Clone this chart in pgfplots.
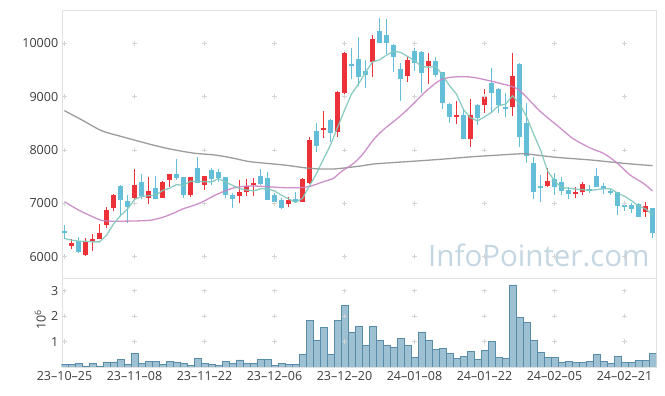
\documentclass[border=0pt]{standalone}
\usepackage{pgfplots}
\pgfplotsset{compat=1.18}
\usepackage{pgfplotstable}
\usepackage{fontspec}
\setmainfont{Open Sans}
\definecolor{upred}{RGB}{236,50,56}
\definecolor{dnblue}{RGB}{100,190,216}
\definecolor{maA}{RGB}{128,200,188}
\definecolor{maB}{RGB}{200,132,196}
\definecolor{maC}{RGB}{145,145,145}
\definecolor{volfill}{RGB}{152,190,208}
\definecolor{voldraw}{RGB}{88,140,168}
\definecolor{framec}{RGB}{225,225,225}
\definecolor{crossc}{RGB}{212,212,212}
\definecolor{wm}{RGB}{196,214,226}
\definecolor{labc}{RGB}{60,60,60}

\pgfplotstableread{
i O H L C
1 6206 6325 6137 6256
3 6031 6356 6019 6269
4 6300 6419 6112 6331
5 6337 6606 6325 6437
6 6587 6925 6544 6869
7 6919 7175 6862 7156
10 7106 7644 7062 7344
12 7106 7487 6987 7231
14 7106 7412 7100 7400
15 7437 7550 7300 7550
18 7156 7500 7125 7487
20 7350 7512 7250 7512
25 7144 7431 7000 7212
26 7219 7456 7137 7325
27 7344 7469 7137 7387
32 6987 7125 6925 7062
34 7031 7469 7031 7450
35 7375 8250 7362 8187
37 8375 8725 8225 8419
39 8344 9100 8237 9087
40 9075 9837 8950 9825
44 9656 10156 9362 10081
49 9394 9750 9281 9687
52 9575 9812 9237 9662
56 8625 8925 8481 8650
58 8212 8950 8050 8650
60 8844 9137 8687 9012
64 8812 9825 8637 9387
69 7325 7656 7300 7419
73 7187 7312 7094 7200
74 7219 7406 7156 7362
83 6844 7031 6737 6950
}\up

\pgfplotstableread{
i O H L C
0 6481 6594 6325 6437
2 6287 6362 6062 6094
8 7325 7337 6781 7062
9 7044 7156 6625 6937
11 7400 7550 7081 7144
13 7281 7512 7075 7087
16 7550 7825 7437 7481
17 7494 7494 7094 7162
19 7656 7862 7375 7387
21 7625 7656 7344 7456
22 7587 7637 7394 7481
23 7494 7500 7106 7156
24 7156 7187 6906 7081
28 7512 7644 7344 7362
29 7475 7594 7062 7062
30 7156 7187 7019 7025
31 7062 7094 6887 6919
33 7075 7206 7012 7019
36 8356 8500 7956 8081
38 8562 8575 8156 8325
41 9606 9919 9325 9581
42 9706 10112 9200 9375
43 9487 9687 9156 9406
45 10231 10469 10000 10012
46 10156 10450 9800 10012
47 9969 9981 9469 9737
48 9519 9625 8919 9325
50 9856 9919 9487 9625
51 9837 9862 9075 9450
53 9662 9750 9375 9406
54 9456 9469 8769 8887
55 8862 8875 8512 8625
57 8656 8762 8200 8206
59 8844 8862 8469 8594
61 9256 9531 8719 9062
62 9150 9162 8687 8844
63 8812 9062 8625 8781
65 9612 9625 8062 8237
66 8500 8875 7750 7887
67 7750 7862 7075 7219
68 7325 7531 7031 7281
70 7450 7562 7156 7312
71 7406 7500 7156 7237
72 7250 7312 7075 7169
75 7262 7344 7187 7237
76 7512 7656 7300 7312
77 7325 7375 7175 7262
78 7231 7262 7156 7200
79 7206 7219 6781 6956
80 6969 7031 6862 6937
81 6969 7000 6825 6894
82 6987 7000 6737 6750
84 6906 6919 6344 6450
}\down

\pgfplotstableread{
i V
0 0.11
1 0.11
2 0.15
3 0.04
4 0.15
5 0.04
6 0.20
7 0.20
8 0.31
9 0.11
10 0.54
11 0.15
12 0.23
13 0.23
14 0.11
15 0.23
16 0.20
17 0.15
18 0.07
19 0.35
20 0.15
21 0.11
22 0.07
23 0.23
24 0.15
25 0.28
26 0.15
27 0.15
28 0.31
29 0.31
30 0.07
31 0.15
32 0.11
33 0.11
34 0.50
35 1.82
36 1.04
37 1.54
38 0.50
39 1.82
40 2.43
41 1.38
42 1.58
43 0.86
44 1.58
45 1.04
46 0.84
47 0.78
48 1.14
49 0.86
50 0.39
51 1.38
52 1.04
53 0.70
54 0.74
55 0.54
56 0.35
57 0.42
58 0.62
59 0.31
60 0.66
61 1.02
62 0.39
63 0.35
64 3.23
65 1.94
66 1.74
67 1.06
68 0.58
69 0.39
70 0.39
71 0.19
72 0.23
73 0.19
74 0.19
75 0.23
76 0.50
77 0.23
78 0.15
79 0.42
80 0.19
81 0.19
82 0.27
83 0.27
84 0.54
}\vol

\begin{document}
\begin{tikzpicture}
\path[use as bounding box] (0,0) rectangle (665pt,396pt);
\pgfplotsset{
  chartbase/.style={
    scale only axis,
    width=594.3pt,
    xmin=-0.4, xmax=84.5,
    axis line style={framec},
    major tick length=0pt,
    tick style={draw=none},
    tick label style={font=\fontsize{12.5}{14}\selectfont, text=labc},
    scaled y ticks=false,
    /pgf/number format/assume math mode=true,
    /pgf/number format/set thousands separator={},
    clip=true,
  },
  candle/.style n args={2}{draw=none, mark=none, forget plot,
    error bars/.cd, y dir=both, y explicit, error mark=none,
    error bar style={draw=#1, line width=#2}},
}
% ---------- price panel ----------
\begin{axis}[chartbase,
  at={(61.7pt,118pt)}, anchor=south west,
  height=268pt,
  ymin=5600, ymax=10625,
  ytick={6000,7000,8000,9000,10000},
  xtick={0,10,...,80}, xticklabels={},
]
\addplot[only marks, mark=+, mark size=2.2pt, crossc, mark options={line width=0.6pt}] coordinates {
(0,6000)(10,6000)(20,6000)(30,6000)(40,6000)(50,6000)(60,6000)(70,6000)(80,6000)
(0,7000)(10,7000)(20,7000)(30,7000)(40,7000)(50,7000)(60,7000)(70,7000)(80,7000)
(0,8000)(10,8000)(20,8000)(30,8000)(40,8000)(50,8000)(60,8000)(70,8000)(80,8000)
(0,9000)(10,9000)(20,9000)(30,9000)(40,9000)(50,9000)(60,9000)(70,9000)(80,9000)
(0,10000)(10,10000)(20,10000)(30,10000)(40,10000)(50,10000)(60,10000)(70,10000)(80,10000)};
\node[font=\fontsize{29.5}{30}\selectfont, text=wm, anchor=center] at (rel axis cs:0.803,0.085) {InfoPointer.com};
% wicks
\addplot[candle={upred}{1.2pt}]
  table[x=i, y expr={(\thisrow{H}+\thisrow{L})/2}, y error expr={(\thisrow{H}-\thisrow{L})/2}] {\up};
\addplot[candle={dnblue}{1.2pt}]
  table[x=i, y expr={(\thisrow{H}+\thisrow{L})/2}, y error expr={(\thisrow{H}-\thisrow{L})/2}] {\down};
% bodies
\addplot[candle={upred}{5pt}]
  table[x=i, y expr={(\thisrow{O}+\thisrow{C})/2}, y error expr={max(abs(\thisrow{C}-\thisrow{O})/2,10)}] {\up};
\addplot[candle={dnblue}{5pt}]
  table[x=i, y expr={(\thisrow{O}+\thisrow{C})/2}, y error expr={max(abs(\thisrow{C}-\thisrow{O})/2,10)}] {\down};
% moving averages
\addplot[maC, line width=1.3pt, smooth, opacity=0.9] coordinates {
(0,8737)(2.5,8562)(5.3,8362)(8.2,8250)(13,8081)(15.8,8000)(18.7,7937)(21.5,7906)(24.2,7844)(26.5,7781)(31.3,7719)(35.1,7656)(38.4,7644)(42.3,7700)(44.1,7737)(48.9,7781)(53.7,7825)(58.4,7875)(62.2,7906)(64.6,7925)(66,7925)(70.3,7862)(75.2,7812)(79.9,7750)(84,7706)};
\addplot[maB, line width=1.3pt, smooth, opacity=0.9] coordinates {
(0,7031)(2,6875)(4,6750)(5.5,6675)(8,6665)(12,6680)(14,6737)(15.5,6812)(17,6900)(18.2,6950)(19.6,7020)(21.8,7170)(24.2,7290)(26.5,7325)(29,7312)(31.3,7294)(33.7,7294)(35.1,7320)(37,7406)(38.4,7469)(39.6,7600)(41.3,7750)(42.7,7937)(44.1,8187)(45.5,8375)(47,8531)(48.4,8687)(49.9,8875)(51.3,9062)(52.7,9219)(53.7,9312)(55.1,9362)(57,9375)(58.4,9362)(59.8,9325)(61.3,9281)(62.2,9250)(64,9187)(65.2,9094)(68,8719)(70.3,8469)(72.6,8219)(75.2,8031)(77,7937)(78.9,7762)(80.8,7531)(82.7,7375)(84,7231)};
\addplot[maA, line width=1.3pt, opacity=0.9] coordinates {
(0,6340)(1,6310)(2,6290)(3,6290)(4,6277)(5,6277)(6,6400)(7,6612)(8,6771)(9,6892)(10,7074)(11,7129)(12,7144)(13,7149)(14,7241)(15,7282)(16,7350)(17,7336)(18,7416)(19,7413)(20,7406)(21,7401)(22,7465)(23,7398)(24,7337)(25,7277)(26,7251)(27,7232)(28,7273)(29,7270)(30,7232)(31,7151)(32,7086)(33,7017)(34,7095)(35,7327)(36,7560)(37,7831)(38,8092)(39,8420)(40,8747)(41,9047)(42,9239)(43,9455)(44,9654)(45,9691)(46,9777)(47,9850)(48,9833)(49,9755)(50,9677)(51,9565)(52,9550)(53,9566)(54,9406)(55,9206)(56,9046)(57,8755)(58,8604)(59,8545)(60,8622)(61,8705)(62,8832)(63,8859)(64,9017)(65,8862)(66,8627)(67,8302)(68,8002)(69,7609)(70,7424)(71,7294)(72,7284)(73,7267)(74,7256)(75,7241)(76,7256)(77,7275)(78,7275)(79,7193)(80,7133)(81,7050)(82,6947)(83,6897)(84,6786)};
\end{axis}
% ---------- volume panel ----------
\begin{axis}[chartbase,
  at={(61.7pt,29pt)}, anchor=south west,
  height=89pt,
  ymin=0, ymax=3.5,
  ytick={1,2,3},
  xtick={0,10,...,80},
  xticklabels={23--10--25,23--11--08,23--11--22,23--12--06,23--12--20,24--01--08,24--01--22,24--02--05,24--02--21},
  xticklabel style={yshift=-1pt},
  ylabel={10\textsuperscript{6}},
  ylabel style={at={(axis description cs:-0.036,0.53)}, anchor=center, rotate=0, font=\fontsize{12.5}{14}\selectfont, text=labc},
]
\addplot[only marks, mark=+, mark size=2.2pt, crossc, mark options={line width=0.6pt}] coordinates {
(0,1)(10,1)(20,1)(30,1)(40,1)(50,1)(60,1)(70,1)(80,1)
(0,2)(10,2)(20,2)(30,2)(40,2)(50,2)(60,2)(70,2)(80,2)
(0,3)(10,3)(20,3)(30,3)(40,3)(50,3)(60,3)(70,3)(80,3)};
\addplot[ybar, bar width=1, bar shift=0pt, fill=volfill, draw=voldraw, line width=0.7pt, fill opacity=0.95] table[x=i, y=V] {\vol};
\end{axis}
\end{tikzpicture}
\end{document}
